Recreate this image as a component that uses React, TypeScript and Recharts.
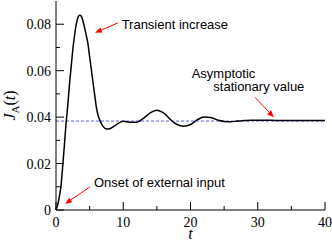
import { ComposedChart, Line, XAxis, YAxis, ReferenceLine, ReferenceDot } from 'recharts';

// time points and flux J_A(t)
const TIME = [
  0, 0.25, 0.5, 0.75, 1, 1.25, 1.5, 1.75, 2, 2.25, 2.5, 2.75, 3, 3.25, 3.5, 3.75, 4, 4.25,
  4.5, 4.75, 5, 5.25, 5.5, 5.75, 6, 6.25, 6.5, 6.75, 7, 7.5, 8, 8.5, 9,
  10, 11, 12, 13, 14, 15, 16, 17, 18, 19, 20, 21, 22, 23, 24, 25, 26, 27, 28, 29, 30,
  32, 34, 36, 38, 40
];
const FLUX = [
  0, 0.0022, 0.0058, 0.0105, 0.019, 0.028, 0.0375, 0.045, 0.054, 0.0615, 0.069, 0.075,
  0.0798, 0.0828, 0.0839, 0.0835, 0.0815, 0.0785, 0.0752, 0.0716, 0.066, 0.0606, 0.055,
  0.0496, 0.0443, 0.0408, 0.0388, 0.0372, 0.036, 0.0349, 0.035, 0.0358, 0.0368,
  0.0382, 0.0378, 0.0378, 0.0395, 0.0418, 0.043, 0.0418, 0.039, 0.0368, 0.0361, 0.0368,
  0.0388, 0.04, 0.0398, 0.0388, 0.0381, 0.038, 0.0383, 0.0385, 0.0387, 0.0387,
  0.0386, 0.0385, 0.0385, 0.0385, 0.0385
];
const ASYMPTOTE = 0.0383;

const X_TICKS = [0, 5, 10, 15, 20, 25, 30, 35, 40];
const Y_TICKS = [0, 0.01, 0.02, 0.03, 0.04, 0.05, 0.06, 0.07, 0.08];

// annotations (text anchor and arrows, in data units)
const NOTES = ['Transient increase', 'Asymptotic', 'stationary value', 'Onset of external input'];
const NOTE_T = [9.76, 20.18, 23.39, 5.65];
const NOTE_J = [0.0781, 0.0568, 0.0514, 0.0098];
const ARROW_FROM_T = [9.22, 29.6, 5.06];
const ARROW_FROM_J = [0.0806, 0.0485, 0.01];
const ARROW_TO_T = [5.8, 32.4, 1.34];
const ARROW_TO_J = [0.0763, 0.0399, 0.0026];

const data = TIME.map((t, i) => ({ t, j: FLUX[i] }));

const SERIF = '"Liberation Serif", "Times New Roman", serif';
const SANS = '"Liberation Sans", Arial, sans-serif';

const isMajorX = (v: number) => v % 10 === 0;
const isMajorY = (v: number) => Math.round(v * 100) % 2 === 0;
const yLabel = (v: number) => (v === 0 ? '0' : v.toFixed(2));

const BottomTick = (p: any) => {
  const { x, y, payload } = p;
  const major = isMajorX(payload.value);
  return (
    <g>
      <line x1={x} y1={y} x2={x} y2={y - (major ? 8 : 4)} stroke="#000" />
      {major && (
        <text x={x} y={y + 17} textAnchor="middle" fontFamily={SERIF} fontSize={14} fill="#000">
          {payload.value}
        </text>
      )}
    </g>
  );
};

const TopTick = (p: any) => {
  const { x, y, payload } = p;
  return <line x1={x} y1={y} x2={x} y2={y + (isMajorX(payload.value) ? 8 : 4)} stroke="#000" />;
};

const LeftTick = (p: any) => {
  const { x, y, payload } = p;
  const major = isMajorY(payload.value);
  return (
    <g>
      <line x1={x} y1={y} x2={x + (major ? 8 : 4)} y2={y} stroke="#000" />
      {major && (
        <text x={x - 5} y={y + 5} textAnchor="end" fontFamily={SERIF} fontSize={14} fill="#000">
          {yLabel(payload.value)}
        </text>
      )}
    </g>
  );
};

const RightTick = (p: any) => {
  const { x, y, payload } = p;
  return <line x1={x} y1={y} x2={x - (isMajorY(payload.value) ? 8 : 4)} y2={y} stroke="#000" />;
};

const Arrow = (p: any) => {
  const { x1, y1, x2, y2 } = p;
  const dx = x2 - x1;
  const dy = y2 - y1;
  const len = Math.sqrt(dx * dx + dy * dy);
  const ux = dx / len;
  const uy = dy / len;
  const hl = 7;
  const hw = 2.8;
  const bx = x2 - ux * hl;
  const by = y2 - uy * hl;
  return (
    <g>
      <line x1={x1} y1={y1} x2={bx} y2={by} stroke="#ff0000" strokeWidth={1} />
      <polygon
        points={`${x2},${y2} ${bx - uy * hw},${by + ux * hw} ${bx + uy * hw},${by - ux * hw}`}
        fill="#ff0000"
      />
    </g>
  );
};

const noteShape = (text: string) => (p: any) => (
  <text x={p.cx} y={p.cy} fontFamily={SANS} fontSize={13} fill="#000">
    {text}
  </text>
);

export default function App() {
  return (
    <div style={{ position: 'absolute', left: 0, top: 0, background: '#fff' }}>
      <ComposedChart width={332} height={241} data={data} margin={{ top: 1, right: 7, left: 0, bottom: 0 }}>
        <XAxis
          xAxisId="b"
          dataKey="t"
          type="number"
          domain={[0, 40]}
          ticks={X_TICKS}
          interval={0}
          height={31}
          tickSize={0}
          tickMargin={0}
          tickLine={false}
          tick={BottomTick}
          axisLine={{ stroke: '#000' }}
          label={{
            content: (lp: any) => (
              <text
                x={lp.viewBox.x + lp.viewBox.width / 2}
                y={lp.viewBox.y + 29}
                textAnchor="middle"
                fontFamily={SERIF}
                fontStyle="italic"
                fontSize={16}
                fill="#000"
              >
                t
              </text>
            )
          }}
        />
        <XAxis
          xAxisId="top"
          orientation="top"
          type="number"
          domain={[0, 40]}
          ticks={X_TICKS}
          interval={0}
          height={0}
          tickSize={0}
          tickMargin={0}
          tickLine={false}
          tick={TopTick}
          axisLine={{ stroke: '#000' }}
        />
        <YAxis
          yAxisId="l"
          type="number"
          domain={[0, 0.09]}
          ticks={Y_TICKS}
          interval={0}
          width={56}
          tickSize={0}
          tickMargin={0}
          tickLine={false}
          tick={LeftTick}
          axisLine={{ stroke: '#000' }}
          label={{
            content: (lp: any) => {
              const cx = 15;
              const cy = lp.viewBox.y + lp.viewBox.height / 2;
              return (
                <text
                  x={cx}
                  y={cy}
                  transform={`rotate(-90, ${cx}, ${cy})`}
                  textAnchor="middle"
                  fontFamily={SERIF}
                  fontSize={16}
                  fill="#000"
                >
                  <tspan fontStyle="italic">J</tspan>
                  <tspan fontSize={11} dy={4}>A</tspan>
                  <tspan dy={-4}>(</tspan>
                  <tspan fontStyle="italic">t</tspan>
                  <tspan>)</tspan>
                </text>
              );
            }
          }}
        />
        <YAxis
          yAxisId="r"
          orientation="right"
          type="number"
          domain={[0, 0.09]}
          ticks={Y_TICKS}
          interval={0}
          width={0}
          tickSize={0}
          tickMargin={0}
          tickLine={false}
          tick={RightTick}
          axisLine={{ stroke: '#000' }}
        />
        <ReferenceLine
          xAxisId="b"
          yAxisId="l"
          y={ASYMPTOTE}
          stroke="#5b5bff"
          strokeWidth={1}
          strokeDasharray="3 2"
        />
        <Line
          xAxisId="b"
          yAxisId="l"
          dataKey="j"
          type="monotone"
          stroke="#000"
          strokeWidth={1.5}
          dot={false}
          isAnimationActive={false}
        />
        {ARROW_FROM_T.map((t, i) => (
          <ReferenceLine
            key={'a' + i}
            xAxisId="b"
            yAxisId="l"
            segment={[
              { x: t, y: ARROW_FROM_J[i] },
              { x: ARROW_TO_T[i], y: ARROW_TO_J[i] }
            ]}
            shape={Arrow}
          />
        ))}
        {NOTES.map((n, i) => (
          <ReferenceDot
            key={'n' + i}
            xAxisId="b"
            yAxisId="l"
            x={NOTE_T[i]}
            y={NOTE_J[i]}
            r={0}
            shape={noteShape(n)}
          />
        ))}
      </ComposedChart>
    </div>
  );
}
